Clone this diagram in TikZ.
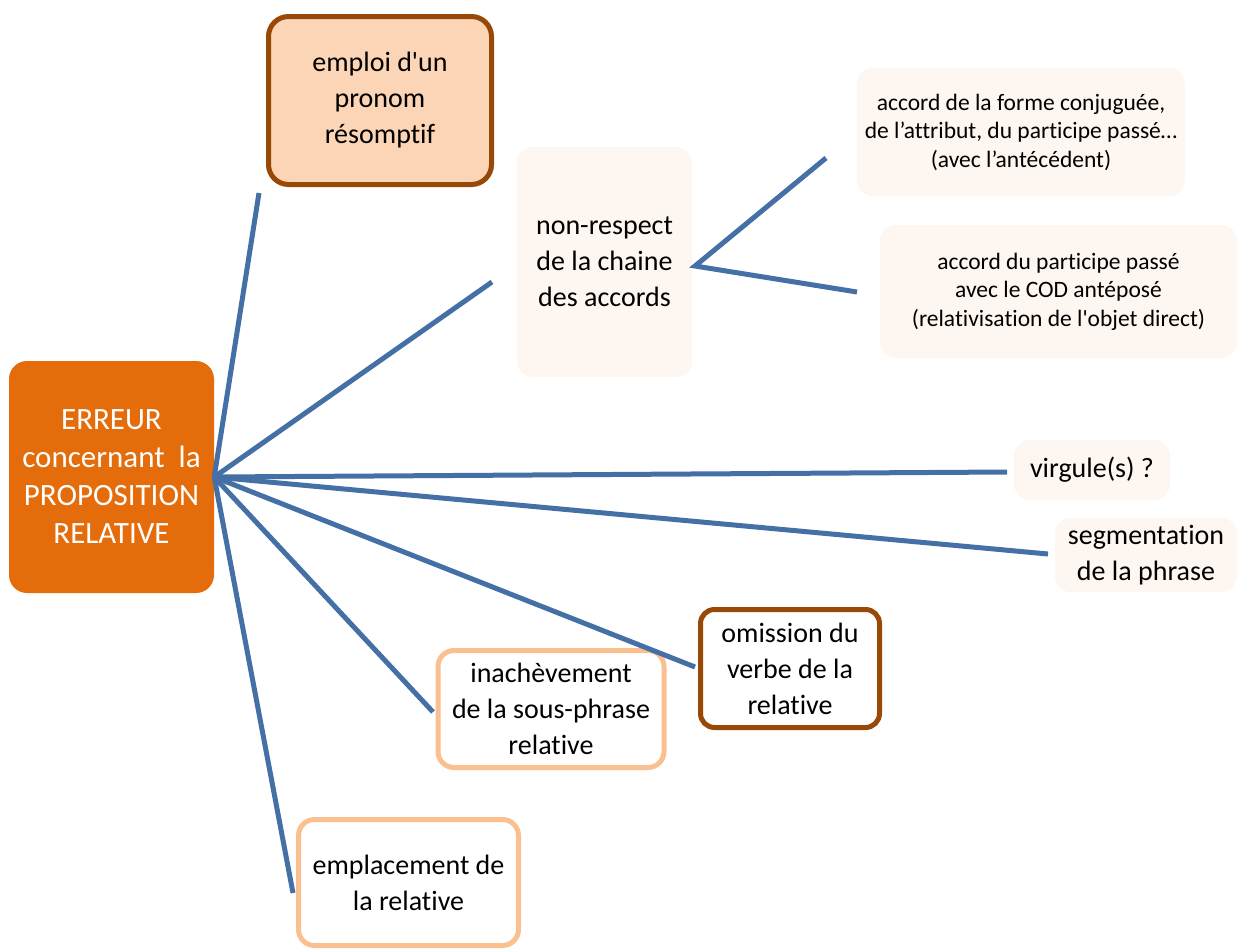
\documentclass[tikz,border=0pt]{standalone}
\usepackage{fontspec}
\setmainfont{Carlito}[Ligatures={TeXOff,NoCommon}]
\definecolor{hubor}{HTML}{E46C0A}
\definecolor{brownb}{HTML}{984807}
\definecolor{peach}{HTML}{FBD5B5}
\definecolor{lightb}{HTML}{FAC090}
\definecolor{pale}{HTML}{FEF6F0}
\definecolor{link}{HTML}{4570A6}
\tikzset{
  box/.style={rectangle, inner sep=0pt, align=center, text=black},
  hubbox/.style={box, fill=hubor, rounded corners=18pt, text=white, font=\fontsize{31}{38}\selectfont},
  peachbox/.style={box, fill=peach, draw=brownb, line width=5pt, rounded corners=20pt, font=\fontsize{28}{36}\selectfont},
  brownbox/.style={box, fill=white, draw=brownb, line width=5pt, rounded corners=14pt, font=\fontsize{28}{36}\selectfont},
  lightbox/.style={box, fill=white, draw=lightb, line width=5pt, rounded corners=16pt, font=\fontsize{28}{36}\selectfont},
  palebox/.style={box, fill=pale, rounded corners=16pt, font=\fontsize{28}{36}\selectfont},
  smallbox/.style={box, fill=pale, rounded corners=16pt, font=\fontsize{23.5}{28.5}\selectfont},
  conn/.style={draw=link, line width=5pt}
}
\begin{document}
\begin{tikzpicture}[x=1pt,y=-1pt]
\useasboundingbox (0,0) rectangle (1243,951);
% boxes
\node[hubbox, minimum width=205, minimum height=232] (c) at (111.5,477) {ERREUR\\concernant\ \ la\\PROPOSITION\\RELATIVE};
\node[peachbox, minimum width=223, minimum height=168] (emploi) at (380,100.5) {emploi d'un\\pronom\\résomptif};
\node[palebox, minimum width=175, minimum height=230] (nonresp) at (604.5,262) {non-respect\\de la chaine\\des accords};
\node[smallbox, minimum width=328, minimum height=128] (acc1) at (1021,132) {accord de la forme conjuguée,\\de l’attribut, du participe passé…\\(avec l’antécédent)};
\node[smallbox, minimum width=357, minimum height=133] (acc2) at (1058.5,291.5) {accord du participe passé\\avec le COD antéposé\\(relativisation de l'objet direct)};
\node[palebox, minimum width=156, minimum height=60] (virg) at (1092,470) {virgule(s) ?};
\node[palebox, minimum width=182, minimum height=74] (segm) at (1146,555) {segmentation\\de la phrase};
\node[brownbox, minimum width=179, minimum height=118] (omis) at (790,668.5) {omission du\\verbe de la\\relative};
\node[lightbox, minimum width=226, minimum height=117] (inach) at (551,709) {inachèvement\\de la sous-phrase\\relative};
\node[lightbox, minimum width=220, minimum height=126] (empl) at (408.5,882.5) {emplacement de\\la relative};
% connector ends
\coordinate (e1) at (259,193);
\coordinate (e2) at (492,282);
\coordinate (e3) at (1007,472);
\coordinate (e4) at (1048,554);
\coordinate (e5) at (695,667);
\coordinate (e6) at (433,712);
\coordinate (e7) at (293,893);
\coordinate (h2) at (695,266);
\coordinate (f1) at (826,158);
\coordinate (f2) at (857,292);
% connectors
\foreach \e in {e1,e2,e3,e4,e5,e6,e7} \draw[conn] (c.east) -- (\e);
\draw[conn] (f1) -- (h2) -- (f2);
\end{tikzpicture}
\end{document}
